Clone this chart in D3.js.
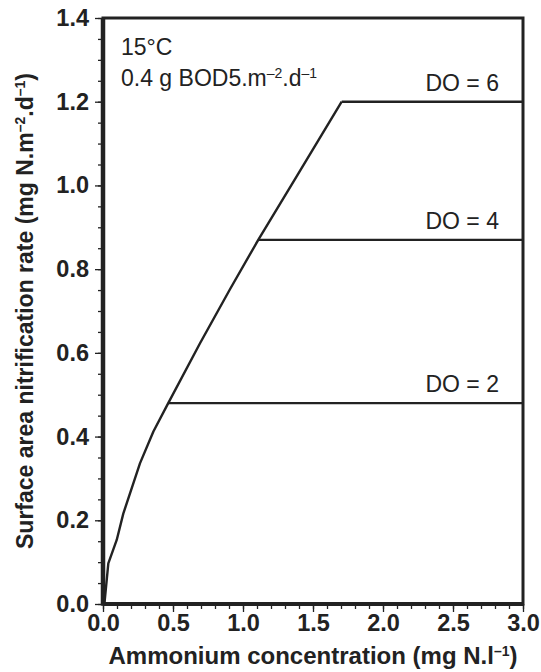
<!DOCTYPE html>
<html>
<head>
<meta charset="utf-8">
<script src="https://cdn.jsdelivr.net/npm/d3@7"></script>
<style>
  body { margin: 0; background: #fff; }
  svg { font-family: 'Liberation Sans', Arial, sans-serif; }
</style>
</head>
<body>
<div class="viz"></div>
<script>
// rising part of the curve (ammonium, rate)
const curveX = [0.01, 0.038, 0.098, 0.145, 0.264, 0.36, 0.466, 0.693, 0.907, 1.109, 1.38, 1.705];
const curveY = [0, 0.097, 0.153, 0.216, 0.336, 0.412, 0.48, 0.623, 0.752, 0.87, 1.02, 1.2];
// plateaus for each dissolved oxygen level
const doLabels = ['DO = 2', 'DO = 4', 'DO = 6'];
const doStart = [0.466, 1.109, 1.705];
const doRate = [0.48, 0.87, 1.2];
const xTicks = [0, 0.5, 1, 1.5, 2, 2.5, 3];
const yTicks = [0, 0.2, 0.4, 0.6, 0.8, 1.0, 1.2, 1.4];

const margin = { top: 18, right: 18, bottom: 68, left: 103 };
const W = 541;
const H = 672;
const width = W - margin.left - margin.right;
const height = H - margin.top - margin.bottom;
const fontSize = 23;
const supSize = 14;

const svg = d3.select('.viz')
  .append('svg')
  .attr('width', W)
  .attr('height', H);

const g = svg.append('g')
  .attr('transform', `translate(${margin.left} ${margin.top})`);

const xScale = d3.scaleLinear().domain([0, 3]).range([0, width]);
const yScale = d3.scaleLinear().domain([0, 1.4]).range([height, 0]);

// minor ticks first, then the major ones with labels
g.append('g')
  .attr('transform', `translate(0 ${height})`)
  .call(d3.axisBottom(xScale).tickValues(d3.range(0, 31).map(d => d / 10)).tickSize(5).tickFormat(''))
  .call(a => a.select('.domain').remove());
g.append('g')
  .attr('class', 'x-axis')
  .attr('transform', `translate(0 ${height})`)
  .call(d3.axisBottom(xScale).tickValues(xTicks).tickSize(8).tickPadding(2).tickFormat(d3.format('.1f')))
  .call(a => a.select('.domain').remove());

g.append('g')
  .call(d3.axisLeft(yScale).tickValues(d3.range(0, 29).map(d => d / 20)).tickSize(5).tickFormat(''))
  .call(a => a.select('.domain').remove());
g.append('g')
  .attr('class', 'y-axis')
  .call(d3.axisLeft(yScale).tickValues(yTicks).tickSize(8).tickPadding(6).tickFormat(d3.format('.1f')))
  .call(a => a.select('.domain').remove());

svg.selectAll('.tick line').attr('stroke', '#222').attr('stroke-width', 1.3);
svg.selectAll('.x-axis text, .y-axis text')
  .attr('font-size', 23.5)
  .attr('font-weight', 'bold')
  .attr('fill', '#222')
  .attr('font-family', "'Liberation Sans', Arial, sans-serif");

// frame
g.append('rect')
  .attr('width', width)
  .attr('height', height)
  .attr('fill', 'none')
  .attr('stroke', '#222')
  .attr('stroke-width', 3);
g.append('line')
  .attr('x1', 0).attr('x2', 0)
  .attr('y1', 0).attr('y2', height + 1.5)
  .attr('stroke', '#222')
  .attr('stroke-width', 4.5);
g.append('line')
  .attr('x1', 0).attr('x2', width)
  .attr('y1', height).attr('y2', height)
  .attr('stroke', '#222')
  .attr('stroke-width', 4);

// rising curve
const line = d3.line()
  .x(d => xScale(d[0]))
  .y(d => yScale(d[1]));

g.append('path')
  .attr('d', line(curveX.map((x, i) => [x, curveY[i]])))
  .attr('fill', 'none')
  .attr('stroke', '#222')
  .attr('stroke-width', 2.4)
  .attr('stroke-linejoin', 'round');

// plateaus and their labels
doLabels.forEach((label, i) => {
  g.append('line')
    .attr('x1', xScale(doStart[i]))
    .attr('x2', xScale(3))
    .attr('y1', yScale(doRate[i]))
    .attr('y2', yScale(doRate[i]))
    .attr('stroke', '#222')
    .attr('stroke-width', 2.4);
  g.append('text')
    .attr('x', width - 24)
    .attr('y', yScale(doRate[i]) - 11)
    .attr('text-anchor', 'end')
    .attr('font-size', fontSize)
    .attr('fill', '#222')
    .text(label);
});

// conditions in the top left corner
g.append('text')
  .attr('x', 18)
  .attr('y', 37)
  .attr('font-size', fontSize)
  .attr('fill', '#222')
  .text('15°C');

const cond = g.append('text')
  .attr('x', 18)
  .attr('y', 68)
  .attr('font-size', fontSize)
  .attr('fill', '#222');
cond.append('tspan').text('0.4 g BOD5.m');
cond.append('tspan').attr('font-size', supSize).attr('dy', -8).text('–2');
cond.append('tspan').attr('dy', 8).text('.d');
cond.append('tspan').attr('font-size', supSize).attr('dy', -8).text('–1');

// axis titles
const xTitle = svg.append('text')
  .attr('x', margin.left + width / 2)
  .attr('y', 664)
  .attr('text-anchor', 'middle')
  .attr('font-size', 24)
  .attr('font-weight', 'bold')
  .attr('fill', '#222');
xTitle.append('tspan').text('Ammonium concentration (mg N.l');
xTitle.append('tspan').attr('font-size', supSize).attr('dy', -8).text('–1');
xTitle.append('tspan').attr('dy', 8).text(')');

const yTitle = svg.append('text')
  .attr('transform', `translate(33 ${311}) rotate(-90)`)
  .attr('text-anchor', 'middle')
  .attr('font-size', fontSize)
  .attr('font-weight', 'bold')
  .attr('fill', '#222');
yTitle.append('tspan').text('Surface area nitrification rate (mg N.m');
yTitle.append('tspan').attr('font-size', supSize).attr('dy', -8).text('–2');
yTitle.append('tspan').attr('dy', 8).text('.d');
yTitle.append('tspan').attr('font-size', supSize).attr('dy', -8).text('–1');
yTitle.append('tspan').attr('dy', 8).text(')');
</script>
</body>
</html>
